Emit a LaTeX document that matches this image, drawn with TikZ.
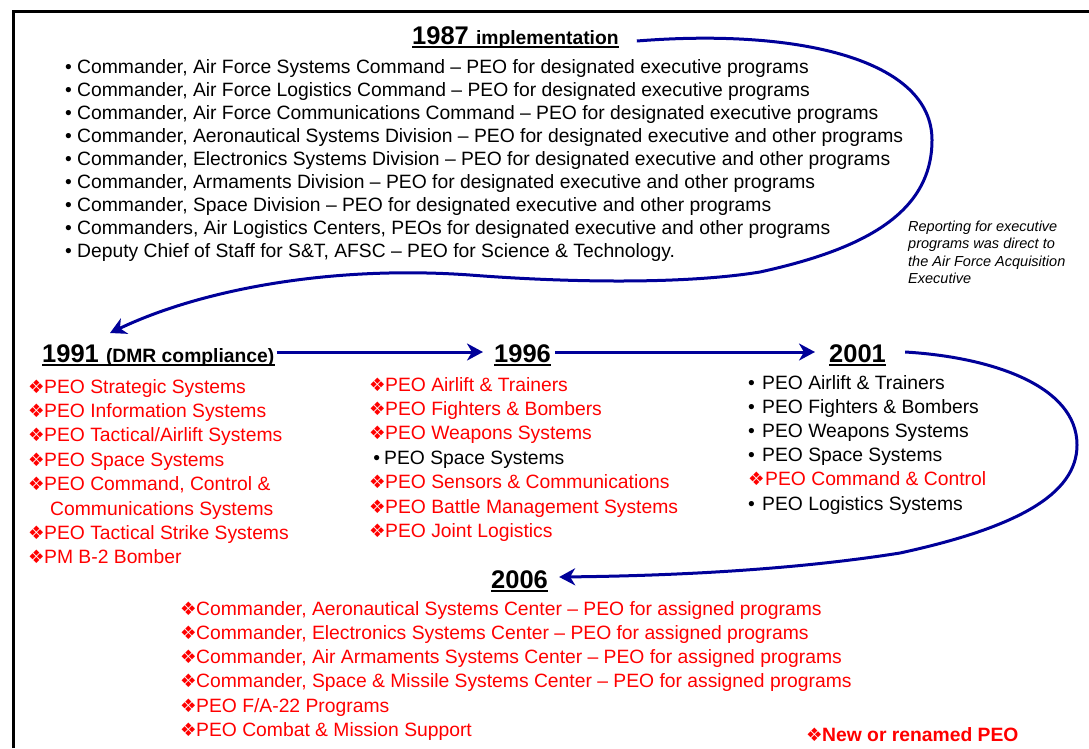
\documentclass[tikz,border=0pt]{standalone}
\usepackage{fontspec}
\setmainfont{Liberation Sans}
\newfontfamily\dvs{DejaVu Sans}
\usetikzlibrary{arrows.meta}
\definecolor{navy}{RGB}{0,0,153}
\definecolor{peored}{RGB}{255,0,0}
\newcommand\dm[1]{\makebox[#1][l]{{\dvs\fontsize{18.5}{18.5}\selectfont ❖}}}
\newcommand\bl[1]{\makebox[#1][l]{•}}
\newcommand\Rd{\color{peored}\dm{16pt}}
\begin{document}
\begin{tikzpicture}[x=1pt,y=-1pt,
  txt/.style={inner sep=0pt, anchor=base west, font=\fontsize{19.3}{23}\selectfont},
  head/.style={inner sep=0pt, anchor=base west, font=\fontsize{25.5}{26}\selectfont\bfseries},
  conn/.style={navy, line width=3pt, -{Stealth[length=16pt,width=17pt,inset=5pt]}},
  uline/.style={line width=2pt},
  note/.style={inner sep=0pt, anchor=base west, font=\fontsize{14.5}{17.5}\selectfont\itshape}
]
\useasboundingbox (0,0) rectangle (1089,748);
\draw[line width=3pt] (13,748) -- (13,11) -- (1089,11);

% headings
\node[head] (h1987) at (412,44) {1987 {\fontsize{19.3}{20}\selectfont implementation}};
\node[head] (h1991) at (42,362) {1991 {\fontsize{19.3}{20}\selectfont (DMR compliance)}};
\node[head] (h1996) at (494,362) {1996};
\node[head] (h2001) at (829,362) {2001};
\node[head] (h2006) at (491,588) {2006};
\foreach \h in {h1987,h1991,h1996,h2001,h2006}
  \draw[uline] ([yshift=-3pt]\h.base west) -- ([yshift=-3pt]\h.base east);

% 1987 list
\foreach \t [count=\i from 0] in {
  {Commander, Air Force Systems Command – PEO for designated executive programs},
  {Commander, Air Force Logistics Command – PEO for designated executive programs},
  {Commander, Air Force Communications Command – PEO for designated executive programs},
  {Commander, Aeronautical Systems Division – PEO for designated executive and other programs},
  {Commander, Electronics Systems Division – PEO for designated executive and other programs},
  {Commander, Armaments Division – PEO for designated executive and other programs},
  {Commander, Space Division – PEO for designated executive and other programs},
  {Commanders, Air Logistics Centers, PEOs for designated executive and other programs},
  {Deputy Chief of Staff for S\&T, AFSC – PEO for Science \& Technology.}}
  \node[txt] (a\i) at (65,{73+23*\i}) {\bl{12pt}\t};

% note
\foreach \t [count=\i from 0] in {
  {Reporting for executive},{programs was direct to},{the Air Force Acquisition},{Executive}}
  \node[note] (n\i) at (908,{231+17.5*\i}) {\t};

% 1991 list
\foreach \t [count=\i from 0] in {
  {\Rd PEO Strategic Systems},
  {\Rd PEO Information Systems},
  {\Rd PEO Tactical/Airlift Systems},
  {\Rd PEO Space Systems},
  {\Rd PEO Command, Control \&},
  {\color{peored}\hspace*{22pt}Communications Systems},
  {\Rd PEO Tactical Strike Systems},
  {\Rd PM B-2 Bomber}}
  \node[txt] (b\i) at (28,{393+24.4*\i}) {\t};

% 1996 list
\foreach \t [count=\i from 0] in {
  {\Rd PEO Airlift \& Trainers},
  {\Rd PEO Fighters \& Bombers},
  {\Rd PEO Weapons Systems},
  {\makebox[15pt][r]{•\hspace{4pt}}PEO Space Systems},
  {\Rd PEO Sensors \& Communications},
  {\Rd PEO Battle Management Systems},
  {\Rd PEO Joint Logistics}}
  \node[txt] (c\i) at (369,{391+24.4*\i}) {\t};

% 2001 list
\foreach \t [count=\i from 0] in {
  {\bl{14pt}PEO Airlift \& Trainers},
  {\bl{14pt}PEO Fighters \& Bombers},
  {\bl{14pt}PEO Weapons Systems},
  {\bl{14pt}PEO Space Systems},
  {\color{peored}\dm{17pt}PEO Command \& Control},
  {\bl{14pt}PEO Logistics Systems}}
  \node[txt] (d\i) at (748,{389+24.2*\i}) {\t};

% 2006 list
\foreach \t [count=\i from 0] in {
  {Commander, Aeronautical Systems Center – PEO for assigned programs},
  {Commander, Electronics Systems Center – PEO for assigned programs},
  {Commander, Air Armaments Systems Center – PEO for assigned programs},
  {Commander, Space \& Missile Systems Center – PEO for assigned programs},
  {PEO F/A-22 Programs},
  {PEO Combat \& Mission Support}}
  \node[txt, text=peored] (e\i) at (180,{615+24.3*\i}) {\dm{16pt}\t};

% legend
\node[txt, text=peored, font=\fontsize{19.3}{23}\selectfont\bfseries] (legend) at (806,741) {\dm{16pt}New or renamed PEO};

% connectors
\draw[conn] ([xshift=18pt,yshift=3pt]h1987.base east)
  .. controls (800,28) and (932,60) .. (932,140)
  .. controls (932,215) and (860,250) .. (760,272)
  .. controls (680,285) and (560,282) .. (470,275)
  .. controls (330,265) and (200,290) .. ([xshift=68pt,yshift=11pt]h1991.north west);
\draw[conn] ([xshift=2pt,yshift=10pt]h1991.base east) -- ([xshift=-11pt,yshift=10pt]h1996.base west);
\draw[conn] ([xshift=4pt,yshift=10pt]h1996.base east) -- ([xshift=-14pt,yshift=10pt]h2001.base west);
\draw[conn] ([xshift=19pt,yshift=10pt]h2001.base east)
  .. controls (990,357) and (1077,385) .. (1077,445)
  .. controls (1077,495) and (1015,528) .. (900,553)
  .. controls (780,572) and (650,576) .. ([xshift=11pt,yshift=11pt]h2006.base east);
\end{tikzpicture}
\end{document}
